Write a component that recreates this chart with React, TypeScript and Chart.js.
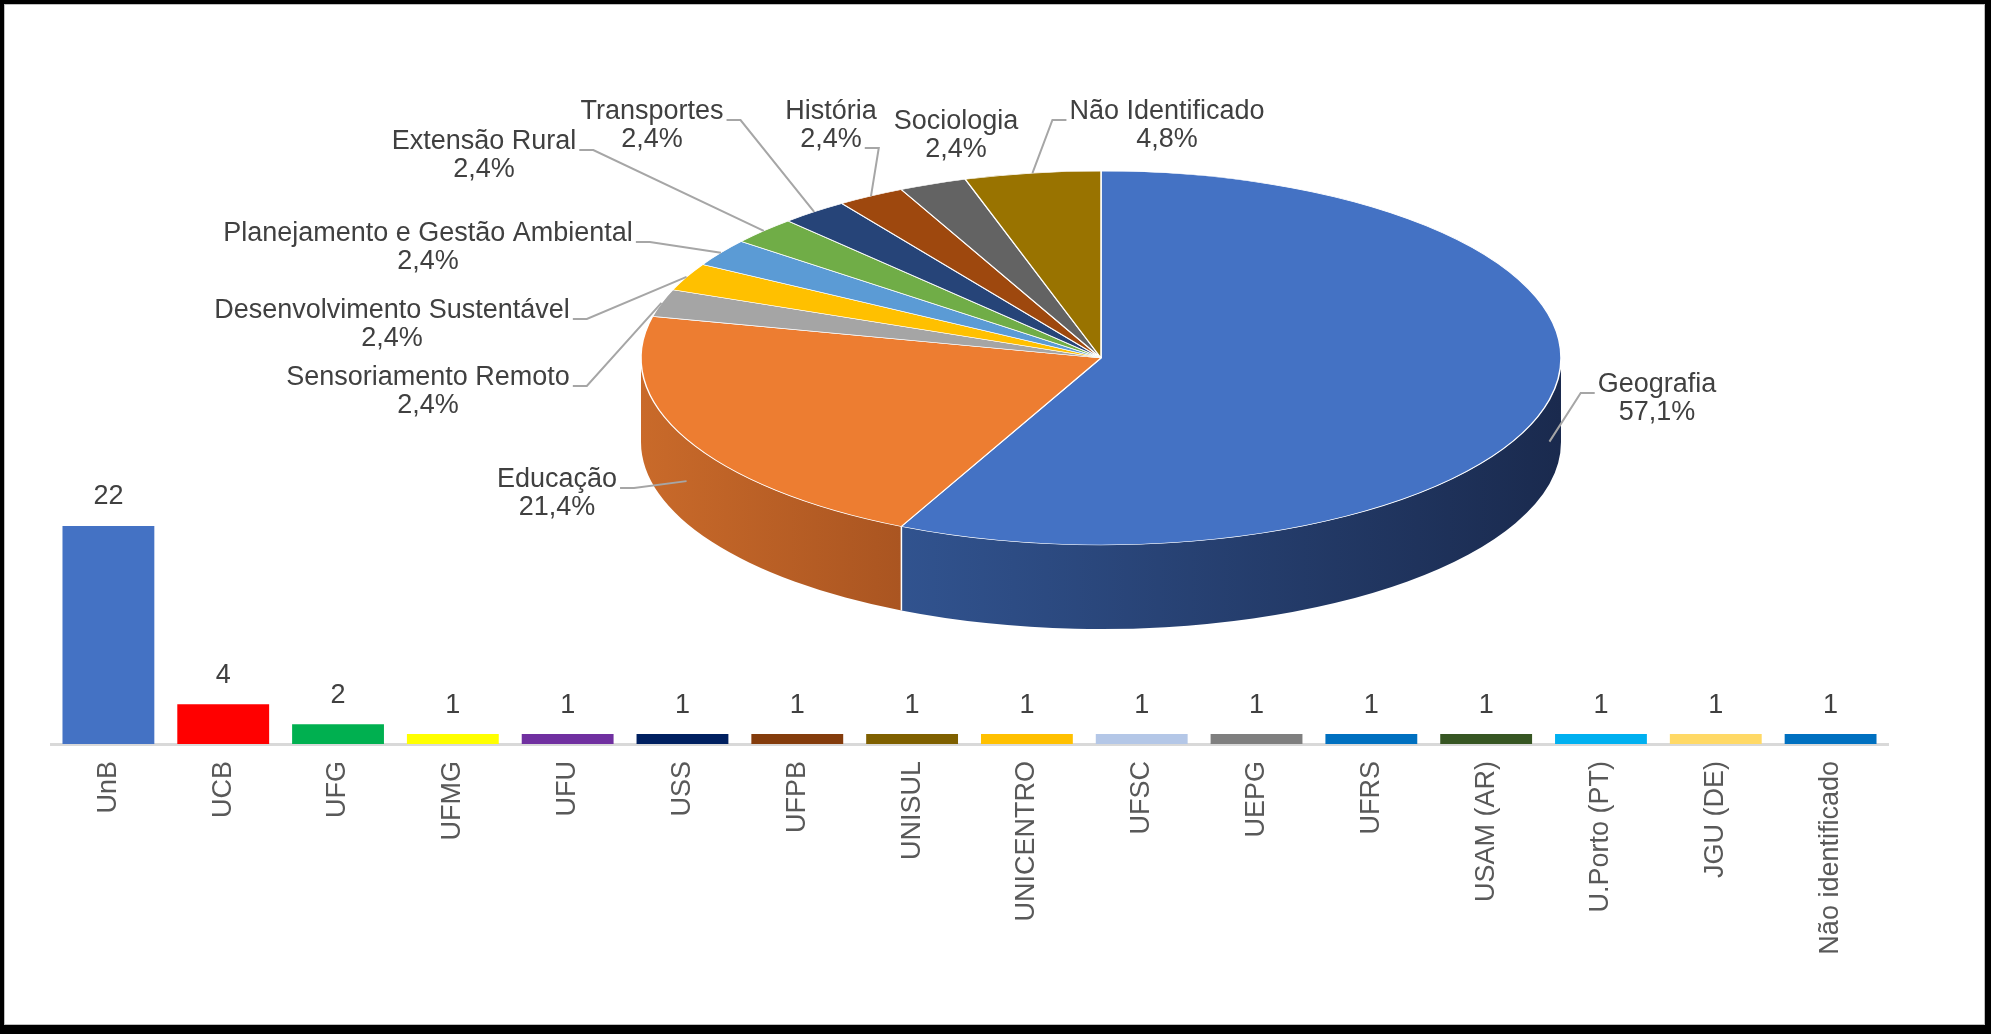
import React, { useEffect, useRef } from 'react';
import { Chart, registerables } from 'chart.js';

Chart.register(...registerables);

// institutions (bar chart)
const institutions = [
  'UnB', 'UCB', 'UFG', 'UFMG', 'UFU', 'USS', 'UFPB', 'UNISUL', 'UNICENTRO',
  'UFSC', 'UEPG', 'UFRS', 'USAM (AR)', 'U.Porto (PT)', 'JGU (DE)', 'Não identificado',
];
const institutionCounts = [22, 4, 2, 1, 1, 1, 1, 1, 1, 1, 1, 1, 1, 1, 1, 1];
const institutionColors = [
  '#4472C4', '#FF0000', '#00B050', '#FFFF00', '#7030A0', '#002060', '#843C0C', '#7F6000',
  '#FFC000', '#B4C7E7', '#7F7F7F', '#0070C0', '#375623', '#00B0F0', '#FFD966', '#0070C0',
];

// knowledge areas (pie chart)
const areas = [
  'Geografia', 'Educação', 'Sensoriamento Remoto', 'Desenvolvimento Sustentável',
  'Planejamento e Gestão Ambiental', 'Extensão Rural', 'Transportes', 'História',
  'Sociologia', 'Não Identificado',
];
const areaCounts = [24, 9, 1, 1, 1, 1, 1, 1, 1, 2];
const areaColors = [
  '#4472C4', '#ED7D31', '#A5A5A5', '#FFC000', '#5B9BD5', '#70AD47', '#264478', '#9E480E',
  '#636363', '#997300',
];
// side of the "3d" pie: [left, right] gradient colours
const areaSideColors = [
  ['#31538f', '#1a2a4e'], ['#c96a2a', '#aa5521'], ['#7c7c7c', '#636363'], ['#bf9000', '#a07800'],
  ['#41719c', '#2e5478'], ['#548235', '#3d6026'], ['#1c335a', '#142440'], ['#76360a', '#5a2908'],
  ['#4a4a4a', '#383838'], ['#735600', '#574100'],
];

// label placement (canvas px): centre of name line, and which side the leader leaves from
const pieLabelLayout = [
  { x: 1653, y: 381, leader: 'left' },
  { x: 553, y: 476, leader: 'right' },
  { x: 424, y: 374, leader: 'right' },
  { x: 388, y: 307, leader: 'right' },
  { x: 424, y: 230, leader: 'right' },
  { x: 480, y: 138, leader: 'right' },
  { x: 648, y: 108, leader: 'right' },
  { x: 827, y: 108, leader: 'rightPct' },
  { x: 952, y: 118, leader: 'none' },
  { x: 1163, y: 108, leader: 'left' },
];

const W = 1981;
const H = 1021;
const FONT = '"Liberation Sans", Arial, sans-serif';
const TILT = 0.4065;
const DEPTH = 84;
const LINE_GAP = 28;

Chart.defaults.font.family = FONT;

const total = areaCounts.reduce((a, b) => a + b, 0);
const pct = (v: number) => ((v / total) * 100).toFixed(1).replace('.', ',') + '%';

const pie3d = {
  id: 'pie3d',
  beforeDatasetsDraw(chart: any) {
    const { ctx } = chart;
    const arcs = chart.getDatasetMeta(0).data;
    const { x: cx, y: cy, outerRadius: rx } = arcs[0];
    const ry = rx * TILT;
    arcs.forEach((arc: any, i: number) => {
      const a1 = Math.max(arc.startAngle, 0);
      const a2 = Math.min(arc.endAngle, Math.PI);
      if (a2 <= a1) return;
      const xl = cx + rx * Math.cos(a2);
      const xr = cx + rx * Math.cos(a1);
      const g = ctx.createLinearGradient(xl, 0, xr, 0);
      g.addColorStop(0, areaSideColors[i][0]);
      g.addColorStop(1, areaSideColors[i][1]);
      ctx.save();
      ctx.fillStyle = g;
      ctx.beginPath();
      ctx.ellipse(cx, cy, rx, ry, 0, a1, a2, false);
      ctx.ellipse(cx, cy + DEPTH, rx, ry, 0, a2, a1, true);
      ctx.closePath();
      ctx.fill();
      if (arc.startAngle > 0 && arc.startAngle < Math.PI) {
        const sx = cx + rx * Math.cos(arc.startAngle);
        const sy = cy + ry * Math.sin(arc.startAngle);
        ctx.strokeStyle = '#ffffff';
        ctx.lineWidth = 1.5;
        ctx.beginPath();
        ctx.moveTo(sx, sy);
        ctx.lineTo(sx, sy + DEPTH);
        ctx.stroke();
      }
      ctx.restore();
    });
    ctx.save();
    ctx.translate(cx, cy);
    ctx.scale(1, TILT);
    ctx.translate(-cx, -cy);
  },
  afterDatasetsDraw(chart: any) {
    chart.ctx.restore();
  },
  afterDraw(chart: any) {
    const { ctx } = chart;
    const arcs = chart.getDatasetMeta(0).data;
    const { x: cx, y: cy, outerRadius: rx } = arcs[0];
    const ry = rx * TILT;
    ctx.save();
    ctx.font = `27px ${FONT}`;
    ctx.textAlign = 'center';
    ctx.textBaseline = 'middle';
    arcs.forEach((arc: any, i: number) => {
      const lay = pieLabelLayout[i];
      const name = areas[i];
      const p = pct(areaCounts[i]);
      ctx.fillStyle = '#404040';
      ctx.fillText(name, lay.x, lay.y);
      ctx.fillText(p, lay.x, lay.y + LINE_GAP);
      if (lay.leader === 'none') return;
      const mid = (arc.startAngle + arc.endAngle) / 2;
      let ex = cx + rx * Math.cos(mid);
      let ey = cy + ry * Math.sin(mid);
      if (Math.sin(mid) > 0) ey += DEPTH / 2;
      let sx: number;
      let sy: number;
      let kx: number;
      if (lay.leader === 'right') {
        sx = lay.x + ctx.measureText(name).width / 2 + 3;
        sy = lay.y + 8;
        kx = sx + 14;
      } else if (lay.leader === 'rightPct') {
        sx = lay.x + ctx.measureText(p).width / 2 + 3;
        sy = lay.y + LINE_GAP + 8;
        kx = sx + 14;
      } else {
        sx = lay.x - ctx.measureText(name).width / 2 - 3;
        sy = lay.y + 8;
        kx = sx - 14;
      }
      ctx.strokeStyle = '#a6a6a6';
      ctx.lineWidth = 2;
      ctx.beginPath();
      ctx.moveTo(sx, sy);
      ctx.lineTo(kx, sy);
      ctx.lineTo(ex, ey);
      ctx.stroke();
    });
    ctx.restore();
  },
};

const barValueLabels = {
  id: 'barValueLabels',
  afterDatasetsDraw(chart: any) {
    const { ctx } = chart;
    const meta = chart.getDatasetMeta(0);
    ctx.save();
    ctx.font = `27px ${FONT}`;
    ctx.fillStyle = '#404040';
    ctx.textAlign = 'center';
    ctx.textBaseline = 'middle';
    meta.data.forEach((bar: any, i: number) => {
      ctx.fillText(String(institutionCounts[i]), bar.x, bar.y - 29);
    });
    ctx.restore();
  },
};

const App: React.FC = () => {
  const barRef = useRef<HTMLCanvasElement>(null);
  const pieRef = useRef<HTMLCanvasElement>(null);

  useEffect(() => {
    if (!barRef.current || !pieRef.current) return;

    const barChart = new Chart(barRef.current, {
      type: 'bar',
      data: {
        labels: institutions,
        datasets: [{
          data: institutionCounts,
          backgroundColor: institutionColors,
          borderWidth: 0,
          barPercentage: 0.8,
          categoryPercentage: 1,
        }],
      },
      options: {
        animation: false,
        responsive: false,
        events: [],
        layout: { padding: { left: 47, right: 97, top: 522, bottom: 0 } },
        plugins: { legend: { display: false }, tooltip: { enabled: false } },
        scales: {
          x: {
            grid: { display: false, drawTicks: false },
            border: { display: true, color: '#d9d9d9', width: 3 },
            ticks: {
              color: '#595959',
              font: { size: 27 },
              minRotation: 90,
              maxRotation: 90,
              autoSkip: false,
              padding: 17,
            },
            afterFit: (scale: any) => { scale.height = H - 740; },
          },
          y: { display: false, min: 0, max: 22 },
        },
      },
      plugins: [barValueLabels],
    });

    const pieChart = new Chart(pieRef.current, {
      type: 'pie',
      data: {
        labels: areas,
        datasets: [{
          data: areaCounts,
          backgroundColor: areaColors,
          borderColor: '#ffffff',
          borderWidth: 1.5,
          radius: 460,
          clip: false,
        } as any],
      },
      options: {
        animation: false,
        responsive: false,
        events: [],
        layout: { padding: { left: 213, right: 0, top: 0, bottom: 313 } },
        plugins: { legend: { display: false }, tooltip: { enabled: false } },
      },
      plugins: [pie3d],
    });

    return () => {
      barChart.destroy();
      pieChart.destroy();
    };
  }, []);

  const layer: React.CSSProperties = { position: 'absolute', left: 0, top: 0, width: W, height: H };

  return (
    <div
      style={{
        position: 'absolute',
        left: 0,
        top: 0,
        width: 1991,
        height: 1034,
        boxSizing: 'border-box',
        borderStyle: 'solid',
        borderColor: '#000',
        borderWidth: '4px 6px 9px 4px',
        background: '#fff',
      }}
    >
      <div style={{ ...layer, boxSizing: 'border-box', border: '1px solid #bfbfbf' }} />
      <canvas ref={barRef} width={W} height={H} style={layer} />
      <canvas ref={pieRef} width={W} height={H} style={layer} />
    </div>
  );
};

export default App;
